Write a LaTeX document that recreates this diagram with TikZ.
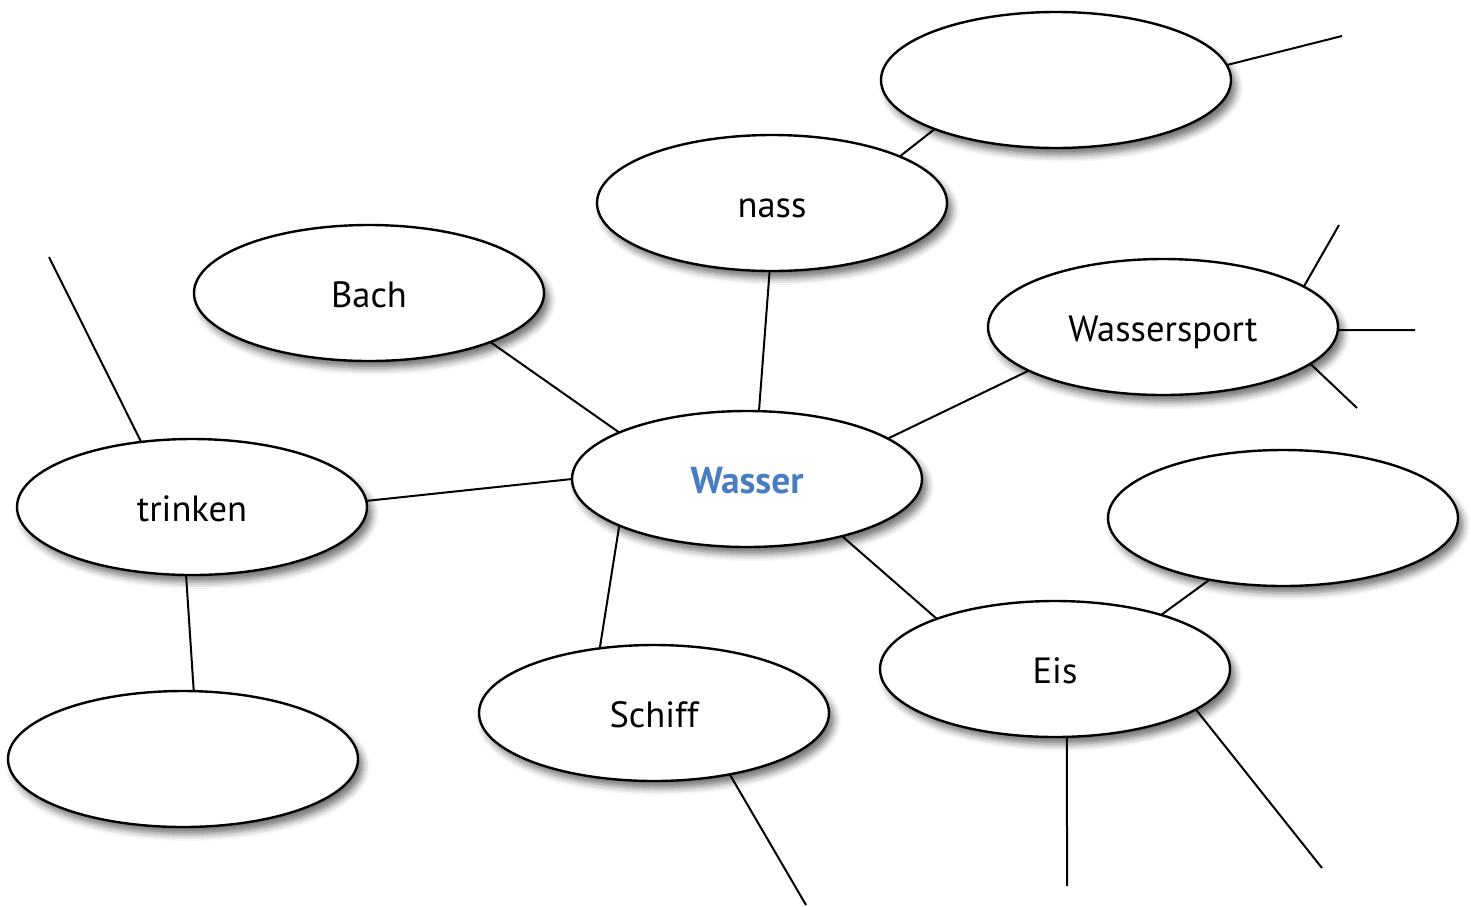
\documentclass[tikz,border=0pt]{standalone}
\usepackage{fontspec}
\setmainfont{PT Sans}
\usetikzlibrary{shapes.geometric,shadows.blur}
\definecolor{wblue}{RGB}{72,126,192}
\newcommand{\lbl}[1]{\raisebox{-14pt}[0pt][0pt]{#1}}
\begin{document}
\begin{tikzpicture}[x=1pt,y=-1pt,
  bubble/.style={ellipse,draw=black,line width=2.4pt,fill=white,
    minimum width=350pt,minimum height=136pt,inner sep=0pt,outer sep=0pt,
    font=\fontsize{36.5}{40}\selectfont,
    blur shadow={shadow xshift=5pt,shadow yshift=-7pt,shadow blur radius=7pt,shadow opacity=55}},
  link/.style={line width=2pt,black}]
\useasboundingbox (0,0) rectangle (1471,906);
% free ends
\coordinate (f1) at (1342,36);
\coordinate (f2) at (1339,225);
\coordinate (f3) at (1415,330);
\coordinate (f4) at (1357,408);
\coordinate (f5) at (49,257);
\coordinate (f6) at (1067,886);
\coordinate (f7) at (1322,868);
\coordinate (f8) at (806,905);
\node[bubble] (tr) at (1056,80) {};
\node[bubble] (nass) at (772,203) {\lbl{nass}};
\node[bubble] (bach) at (369,293) {\lbl{Bach}};
\node[bubble] (sport) at (1163,327) {\lbl{Wassersport}};
\node[bubble,font=\fontsize{37.5}{40}\selectfont\bfseries,text=wblue] (wasser) at (747,479) {\lbl{Wasser}};
\node[bubble] (trinken) at (192,507) {\lbl{trinken}};
\node[bubble] (r) at (1283,518) {};
\node[bubble] (eis) at (1055,669) {\lbl{Eis}};
\node[bubble] (schiff) at (654,713) {\lbl{Schiff}};
\node[bubble] (bl) at (183,759) {};
% connectors
\draw[link] (nass.20.4) -- (tr.202);
\draw[link] (tr.5) -- (f1);
\draw[link] (bach.-22) -- (wasser.160.9);
\draw[link] (nass.-92.5) -- (wasser.80);
\draw[link] (sport.198) -- (wasser.16.6);
\draw[link] (sport.16.5) -- (f2);
\draw[link] (sport.-1) -- (f3);
\draw[link] (sport.-14.2) -- (f4);
\draw[link] (trinken.2.3) -- (wasser.180.7);
\draw[link] (trinken.128.2) -- (f5);
\draw[link] (trinken.-95.7) -- (bl.81);
\draw[link] (wasser.200.3) -- (schiff.130.7);
\draw[link] (wasser.-31.6) -- (eis.157.5);
\draw[link] (eis.27.8) -- (r.220.4);
\draw[link] (eis.-80) -- (f6);
\draw[link] (eis.-16.8) -- (f7);
\draw[link] (schiff.-39.3) -- (f8);
\end{tikzpicture}
\end{document}
